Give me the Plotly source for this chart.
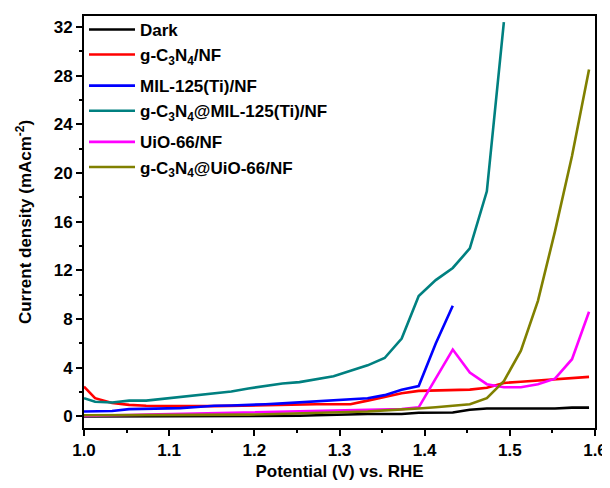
import plotly.graph_objects as go

potential = [1.0, 1.013, 1.033, 1.053, 1.073, 1.093, 1.113, 1.133, 1.153, 1.173,
             1.193, 1.213, 1.233, 1.253, 1.273, 1.293, 1.313, 1.333, 1.353, 1.373,
             1.393, 1.413, 1.433, 1.453, 1.473, 1.493, 1.513, 1.533, 1.553, 1.573, 1.593]

dark = [0.0, 0.0, 0.0, 0.0, 0.0, 0.0, 0.0, 0.0, 0.0, 0.0,
        0.0, 0.02, 0.04, 0.06, 0.1, 0.15, 0.18, 0.2, 0.2, 0.2,
        0.3, 0.32, 0.32, 0.55, 0.65, 0.65, 0.65, 0.65, 0.65, 0.72, 0.72]

gcn = [2.45, 1.5, 1.1, 0.95, 0.88, 0.85, 0.85, 0.85, 0.85, 0.88,
       0.9, 0.95, 0.95, 0.95, 1.0, 1.0, 1.0, 1.3, 1.6, 1.9,
       2.1, 2.15, 2.15, 2.2, 2.35, 2.75, 2.85, 2.95, 3.05, 3.15, 3.25]

mil = [0.4, 0.4, 0.45, 0.6, 0.62, 0.65, 0.68, 0.78, 0.88, 0.9,
       0.93, 1.0, 1.07, 1.15, 1.22, 1.28, 1.38, 1.5, 1.75, 2.2,
       2.5, 6.0, 9.1]

gcn_mil = [1.5, 1.2, 1.15, 1.3, 1.3, 1.45, 1.6, 1.75, 1.9, 2.05,
           2.3, 2.5, 2.7, 2.82, 3.05, 3.3, 3.75, 4.2, 4.8, 6.4,
           9.9, 11.2, 12.2, 13.8, 18.5, 32.4]

uio = [0.05, 0.08, 0.1, 0.12, 0.15, 0.18, 0.2, 0.22, 0.25, 0.28,
       0.3, 0.33, 0.36, 0.4, 0.43, 0.45, 0.48, 0.5, 0.55, 0.6,
       0.75, 3.1, 5.5, 3.6, 2.65, 2.4, 2.4, 2.65, 3.1, 4.7, 8.6]

gcn_uio = [0.1, 0.1, 0.1, 0.1, 0.1, 0.1, 0.1, 0.12, 0.13, 0.14,
           0.15, 0.18, 0.22, 0.25, 0.28, 0.3, 0.35, 0.4, 0.5, 0.55,
           0.65, 0.75, 0.85, 1.0, 1.5, 2.9, 5.4, 9.5, 15.2, 21.4, 28.5]

x_ticks = [1.0, 1.1, 1.2, 1.3, 1.4, 1.5, 1.6]
x_ticklabels = ["1.0", "1.1", "1.2", "1.3", "1.4", "1.5", "1.6"]
y_ticks = [0, 4, 8, 12, 16, 20, 24, 28, 32]

series = [
    ("Dark", dark, "#000000", "g1"),
    ("g-C<sub>3</sub>N<sub>4</sub>/NF", gcn, "#FF0000", "g1"),
    ("MIL-125(Ti)/NF", mil, "#0000FF", "g2"),
    ("g-C<sub>3</sub>N<sub>4</sub>@MIL-125(Ti)/NF", gcn_mil, "#008080", "g2"),
    ("UiO-66/NF", uio, "#FF00FF", "g3"),
    ("g-C<sub>3</sub>N<sub>4</sub>@UiO-66/NF", gcn_uio, "#808000", "g3"),
]

FONT = "Liberation Sans, Arial, sans-serif"

fig = go.Figure()
for name, vals, color, grp in series:
    fig.add_trace(go.Scatter(
        x=potential[:len(vals)], y=vals, mode="lines", name=name,
        legendgroup=grp,
        line=dict(color=color, width=2.6),
    ))

axis_common = dict(
    showline=True, linecolor="black", linewidth=2, mirror=True,
    ticks="outside", ticklen=6, tickwidth=2, tickcolor="black",
    showgrid=False, zeroline=False, automargin=False,
    tickfont=dict(family=FONT, size=17, color="black", weight="bold"),
)

fig.update_xaxes(
    range=[1.0, 1.6], tickmode="array", tickvals=x_ticks, ticktext=x_ticklabels,
    minor=dict(ticks="outside", ticklen=3, tickwidth=2, tickcolor="black", dtick=0.05, tick0=1.0),
    title=dict(text="<b>Potential (V) vs. RHE</b>", font=dict(family=FONT, size=17, color="black"), standoff=6),
    **axis_common,
)
fig.update_yaxes(
    range=[-0.95, 32.9], tickmode="array", tickvals=y_ticks,
    minor=dict(ticks="outside", ticklen=3, tickwidth=2, tickcolor="black", dtick=2, tick0=0),
    title=dict(text="<b>Current density (mAcm<sup>-2</sup>)</b>", font=dict(family=FONT, size=17, color="black"), standoff=18),
    **axis_common,
)

fig.update_layout(
    width=602, height=480,
    margin=dict(l=76, r=15, t=4, b=60),
    paper_bgcolor="white", plot_bgcolor="white",
    showlegend=True,
    legend=dict(
        x=0.0, y=1.01, xanchor="left", yanchor="top",
        bgcolor="rgba(0,0,0,0)", borderwidth=0,
        font=dict(family=FONT, size=17, color="black", weight="bold"),
        tracegroupgap=6, itemwidth=46, groupclick="toggleitem",
    ),
)

fig.write_html("out.html")
